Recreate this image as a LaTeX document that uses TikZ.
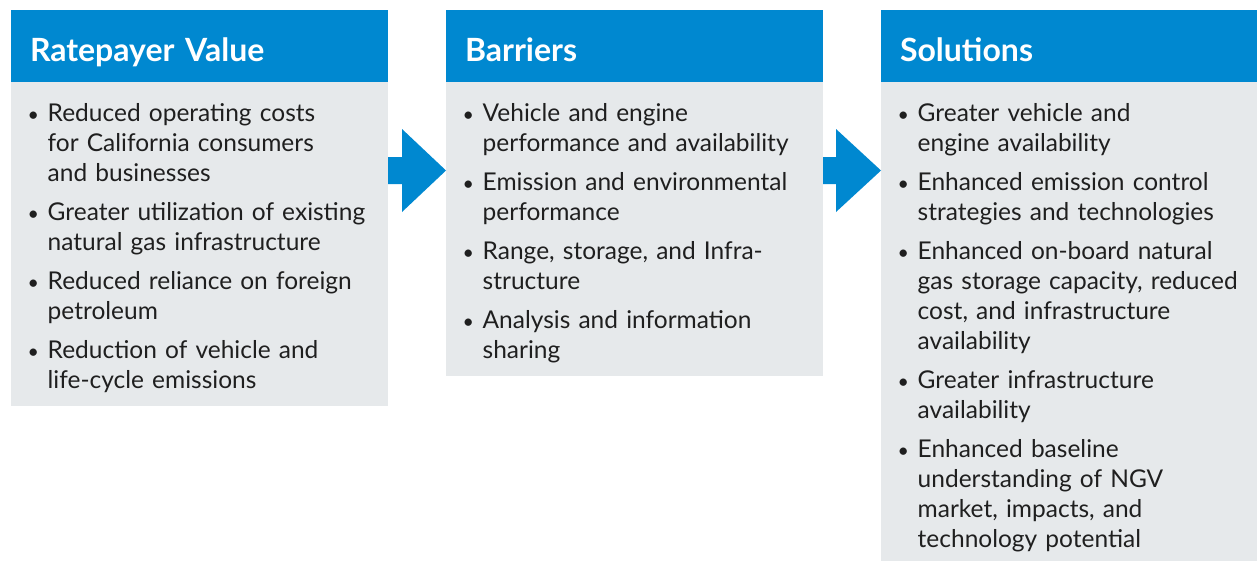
\documentclass[tikz,border=0pt]{standalone}
\usepackage{fontspec}
\setmainfont{Lato}
\usepackage{xcolor}
\usepackage{graphicx}
\usepackage{tikz}
\usetikzlibrary{calc,positioning}

\definecolor{headblue}{HTML}{0088D0}
\definecolor{bodygray}{HTML}{E6E9EB}
\definecolor{inktext}{HTML}{1F1F1F}

% one bullet point, lines split by \newline
\newcommand{\bul}[1]{\parskip=9pt\rightskip=0pt plus 1fil\hangindent=17.5pt\hangafter=1%
    \noindent\strut\makebox[17.5pt][l]{\hspace{-2.5pt}\scalebox{0.8}{\textbullet}}#1\par}

\begin{document}
\begin{tikzpicture}[x=1pt, y=-1pt,
    head/.style={fill=headblue, text=white, font=\fontsize{32}{38}\selectfont\bfseries,
        text width=339pt, inner xsep=19pt, inner ysep=0pt, text height=51pt, text depth=21pt,
        align=left, outer sep=0pt},
    bodybox/.style={fill=bodygray, minimum width=377pt, inner sep=0pt, outer sep=0pt},
    items/.style={text=inktext, font=\fontsize{24.5}{30}\selectfont, text width=355pt,
        inner sep=0pt, anchor=north west},
    flow/.style={fill=headblue}]

    \useasboundingbox (0,0) rectangle (1257,560);

    \node [head, anchor=north west] (valhead) at (11,10) {Ratepayer Value};
    \node [bodybox, below=0pt of valhead, minimum height=324pt] (valbody) {};
    \node [head, anchor=north west] (barhead) at (446,10) {Barriers};
    \node [bodybox, below=0pt of barhead, minimum height=294pt] (barbody) {};
    \node [head, anchor=north west] (solhead) at (881,10) {Solutions};
    \node [bodybox, below=0pt of solhead, minimum height=490pt] (solbody) {};

    \node [items] (valitems) at ($(valbody.north west)+(19,18)$) {%
        \bul{Reduced operating costs\newline for California consumers\newline and businesses}
        \bul{Greater utilization of existing\newline natural gas infrastructure}
        \bul{Reduced reliance on foreign\newline petroleum}
        \bul{Reduction of vehicle and\newline life-cycle emissions}};
    \node [items] (baritems) at ($(barbody.north west)+(19,18)$) {%
        \bul{Vehicle and engine\newline performance and availability}
        \bul{Emission and environmental\newline performance}
        \bul{Range, storage, and Infra-\newline structure}
        \bul{Analysis and information\newline sharing}};
    \node [items] (solitems) at ($(solbody.north west)+(19,18)$) {%
        \bul{Greater vehicle and\newline engine availability}
        \bul{Enhanced emission control\newline strategies and technologies}
        \bul{Enhanced on-board natural\newline gas storage capacity, reduced\newline cost, and infrastructure\newline availability}
        \bul{Greater infrastructure\newline availability}
        \bul{Enhanced baseline\newline understanding of NGV\newline market, impacts, and\newline technology potential}};

    % block arrows between the columns
    \fill [flow] (valbody.north east |- 0,157) -- ++(14,0) -- ++(0,-28)
        -- (barbody.north west |- 0,170.5) -- ++(-44,41.5) -- ++(0,-28) -- (valbody.north east |- 0,184) -- cycle;
    \fill [flow] (barbody.north east |- 0,157) -- ++(13,0) -- ++(0,-28)
        -- (solbody.north west |- 0,170.5) -- ++(-45,41.5) -- ++(0,-28) -- (barbody.north east |- 0,184) -- cycle;

\end{tikzpicture}
\end{document}
